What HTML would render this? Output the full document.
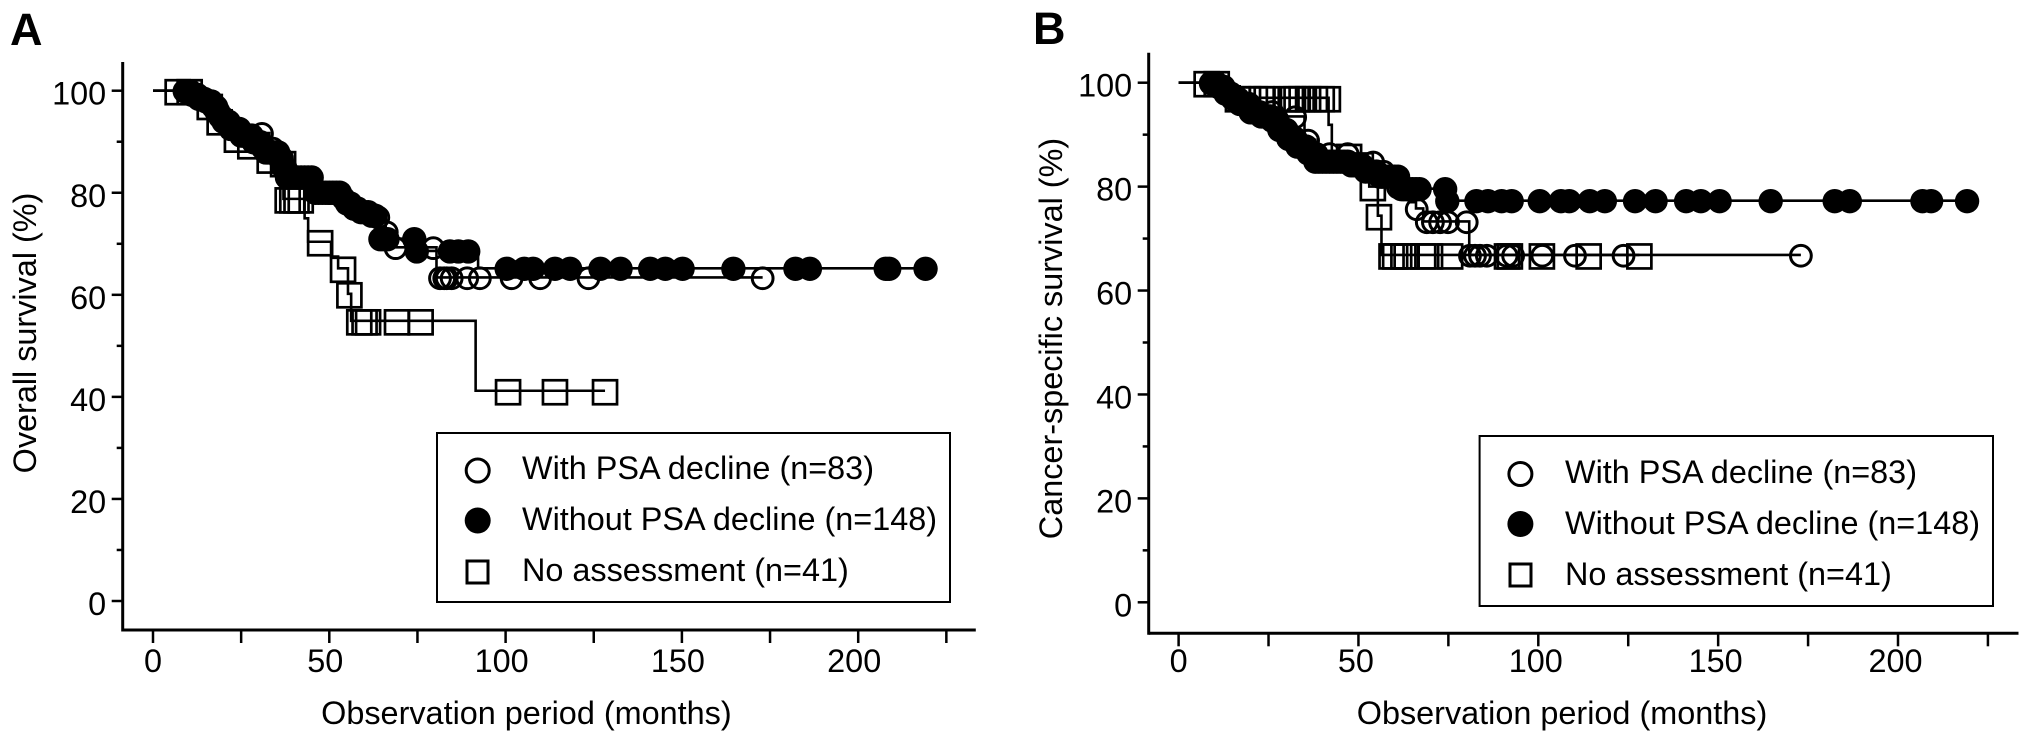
<!DOCTYPE html>
<html lang="en">
<head>
<meta charset="utf-8">
<title>Survival curves by PSA decline</title>
<style>
html,body{margin:0;padding:0;background:#fff;}
body{width:2031px;height:744px;overflow:hidden;}
svg{display:block;font-family:"Liberation Sans",Arial,sans-serif;fill:#000;}
text{font-size:32.4px;fill:#000;}
</style>
</head>
<body>
<svg id="figure" width="2031" height="744" viewBox="0 0 2031 744" xmlns="http://www.w3.org/2000/svg">
  <rect x="0" y="0" width="2031" height="744" fill="#fff"/>
  <text x="10" y="45" style="font-size:45px;font-weight:bold">A</text>
  <text x="1033" y="44" style="font-size:45px;font-weight:bold">B</text>

  <text transform="translate(36 333) rotate(-90)" text-anchor="middle">Overall survival (%)</text>
  <text transform="translate(1062 338.5) rotate(-90)" text-anchor="middle">Cancer-specific survival (%)</text>
  <text x="526.4" y="724" text-anchor="middle">Observation period (months)</text>
  <text x="1562" y="724" text-anchor="middle">Observation period (months)</text>

  <g id="panel-a"></g>
  <g id="panel-b"></g>

  <g>
    <rect x="437" y="433" width="513" height="169" fill="#fff" stroke="#000" stroke-width="2"/>
    <g>
      <circle cx="477.7" cy="470.5" r="11.5" fill="none" stroke="#000" stroke-width="3"/>
      <text x="522" y="479">With PSA decline (n=83)</text>
    </g>
    <g>
      <circle cx="477.7" cy="520.5" r="13" fill="#000"/>
      <text x="522" y="530">Without PSA decline (n=148)</text>
    </g>
    <g>
      <rect x="467" y="561" width="21" height="22" fill="none" stroke="#000" stroke-width="3"/>
      <text x="522" y="581">No assessment (n=41)</text>
    </g>
  </g>

  <g>
    <rect x="1479.6" y="436" width="513.4" height="170" fill="#fff" stroke="#000" stroke-width="2"/>
    <g>
      <circle cx="1520.4" cy="474" r="11.5" fill="none" stroke="#000" stroke-width="3"/>
      <text x="1565" y="483">With PSA decline (n=83)</text>
    </g>
    <g>
      <circle cx="1520.4" cy="524" r="13" fill="#000"/>
      <text x="1565" y="534">Without PSA decline (n=148)</text>
    </g>
    <g>
      <rect x="1510" y="564" width="21" height="22" fill="none" stroke="#000" stroke-width="3"/>
      <text x="1565" y="585">No assessment (n=41)</text>
    </g>
  </g>
</svg>

<script>
// ---- shared axis data ----
const xTickValues = [0, 25, 50, 75, 100, 125, 150, 175, 200, 225];
const xTickLabels = ["0", "", "50", "", "100", "", "150", "", "200", ""];
const yTickValues = [0, 10, 20, 30, 40, 50, 60, 70, 80, 90, 100];
const yTickLabels = ["0", "", "20", "", "40", "", "60", "", "80", "", "100"];

// ---- panel A: overall survival ----
const aWithStepTimes = [0, 11, 17, 20, 24, 28, 33, 36, 38, 46, 56, 62, 66, 68, 80.4];
const aWithStepValues = [100, 99.3, 97, 94, 92.3, 91.7, 88.8, 86.8, 83.1, 80.1, 77, 75.3, 72.4, 69.3, 63.4];
const aWithCensorTimes = [12, 18, 24, 30.9, 34, 38, 42, 50, 57, 63.9, 66.3, 68.8, 79.5, 81.4, 82.6, 83.3, 84.7, 89.1, 92.7, 101.7, 109.8, 123.5, 172.9];

const aWithoutStepTimes = [0, 11, 13, 15, 17, 18, 19, 20, 22, 25, 28.5, 31, 32, 36, 37, 37.7, 46, 54, 55, 56.8, 59, 61.5, 63.2, 64.2, 74.5, 92.2];
const aWithoutStepValues = [100, 99.3, 98.5, 98, 97, 96, 95, 94, 92.6, 91.3, 90, 89, 88, 86.8, 85, 83.1, 80.1, 79, 78, 77, 76.3, 75.6, 74.3, 71, 68.6, 65.2];
const aWithoutCensorTimes = [9, 9.5, 10, 10.5, 11, 11.5, 12, 12.5, 13, 13.5, 14, 14.5, 15, 15.5, 16, 16.5, 17, 17.5, 18, 18.5, 19, 19.5, 20, 20.5, 21, 21.5, 22, 22.5, 23, 23.5, 24, 24.5, 25, 25.5, 26, 26.5, 27, 27.5, 28, 28.5, 29, 29.5, 30, 30.5, 31, 31.5, 32, 32.5, 33, 33.5, 34, 34.5, 35, 35.5, 36, 36.5, 37, 37.5, 38, 39, 40, 41, 42, 43, 44, 45, 46, 47, 48, 49, 50, 51, 52, 53, 54, 55, 56, 57, 58, 59, 60, 61, 62, 63, 64.5, 65.5, 66.5, 74.1, 74.8, 84.2, 86.6, 89.4, 100.3, 105.3, 107.8, 114, 118.3, 126.9, 132.6, 141, 145.3, 150.2, 164.6, 182.2, 186.3, 207.8, 208.8, 219.1];

const aNoneStepTimes = [0, 14, 18, 23, 27, 33, 36, 37, 43, 44, 50.5, 52.5, 55.3, 56.2, 91.5];
const aNoneStepValues = [100, 97.1, 94.1, 90.7, 89.4, 86.6, 85.9, 78.8, 75, 70.4, 67.5, 65.2, 60.2, 54.9, 41.2];
const aNoneCensorTimes = [7, 10.4, 16.1, 18.9, 23.8, 27.6, 33.1, 36.9, 38.2, 39.5, 40.7, 41.9, 47.4, 53.9, 55.7, 58.5, 60, 61, 69.2, 75.9, 100.7, 114, 128.2];

// ---- panel B: cancer-specific survival ----
const bWithStepTimes = [0, 11, 17, 23, 29, 35, 38, 54, 56, 60, 64, 66, 68, 80.8];
const bWithStepValues = [100, 99.3, 96, 94.5, 93.5, 89, 86.4, 84.8, 83, 80, 77, 75.8, 73.3, 66.85];
const bWithCensorTimes = [12, 18, 26, 32.4, 36, 38.4, 42, 47, 54.1, 57, 61, 66.2, 69, 70.7, 72.7, 74.9, 80.1, 81, 82.4, 83.8, 85.7, 91.2, 93, 101.1, 110.2, 123.7, 173];

const bWithoutStepTimes = [0, 11, 13, 15, 17, 20, 23, 26, 28, 30.5, 33, 36, 38, 48, 52, 56, 61.5, 74.4];
const bWithoutStepValues = [100, 99.3, 98, 97, 96, 94.4, 93.6, 92.8, 91, 89.3, 87.8, 86.5, 84.9, 84.2, 83, 82, 79.6, 77.3];
const bWithoutCensorTimes = [9, 9.5, 10, 10.5, 11, 11.5, 12, 12.5, 13, 13.5, 14, 14.5, 15, 15.5, 16, 16.5, 17, 17.5, 18, 18.5, 19, 19.5, 20, 20.5, 21, 21.5, 22, 22.5, 23, 23.5, 24, 24.5, 25, 25.5, 26, 26.5, 27, 27.5, 28, 28.5, 29, 29.5, 30, 30.5, 31, 31.5, 32, 32.5, 33, 33.5, 34, 34.5, 35, 35.5, 36, 36.5, 37, 37.5, 38, 39, 40, 41, 42, 43, 44, 45, 46, 47, 48, 49, 50, 51, 52, 53, 54, 55, 56, 57, 58, 59, 60, 61, 62, 63, 64, 65, 66, 67, 74.1, 74.7, 82.8, 86, 89.8, 92.6, 100.4, 106.3, 108.6, 114.3, 118.5, 126.9, 132.6, 141.1, 145.2, 150.4, 164.6, 182.4, 186.6, 206.8, 209.2, 219.2];

const bNoneStepTimes = [0, 14, 41.7, 42.6, 50, 53, 55.4, 56.4];
const bNoneStepValues = [100, 97.1, 91.9, 86, 84, 80, 74.4, 66.85];
const bNoneCensorTimes = [7.8, 10.6, 16.5, 19.3, 21.2, 23.1, 24.5, 30, 31.8, 32.8, 34.2, 36, 37.9, 39.8, 41.5, 47.4, 54, 55.7, 59.2, 60.2, 62.5, 63.4, 68, 69.9, 75.5, 91.3, 92.1, 101, 114, 128.1];

const SVG_NS = "http://www.w3.org/2000/svg";

function makeXScale(origin, perMonth) {
  return function (months) { return origin + perMonth * months; };
}
function makeYScale(origin, perPercent) {
  return function (percent) { return origin - perPercent * percent; };
}
function stepValueAt(times, values, t) {
  let v = values[0];
  for (let i = 0; i < times.length; i++) {
    if (times[i] <= t) v = values[i];
  }
  return v;
}
function addNode(parent, tag, attrs) {
  const node = document.createElementNS(SVG_NS, tag);
  Object.keys(attrs).forEach(function (key) { node.setAttribute(key, attrs[key]); });
  parent.appendChild(node);
  return node;
}

function drawAxes(group, geom, x, y) {
  const axisStyle = { stroke: "#000", "stroke-width": 3, fill: "none" };
  const yAxis = addNode(group, "line", Object.assign({ x1: geom.axisX, x2: geom.axisX, y1: geom.axisTop, y2: geom.axisY + 1.5 }, axisStyle));
  
  
  const xAxis = addNode(group, "line", Object.assign({ x1: geom.axisX, x2: geom.axisRight, y1: geom.axisY, y2: geom.axisY }, axisStyle));
  
  

  xTickValues.forEach(function (value, i) {
    const px = x(value);
    const tick = addNode(group, "line", { x1: px, x2: px, y1: geom.axisY, y2: geom.axisY + 13, stroke: "#000", "stroke-width": 2.5 });
    
    
    if (xTickLabels[i]) {
      const shift = value === 0 ? 0 : geom.labelShift;
      const label = addNode(group, "text", { x: px + shift, y: 672, "text-anchor": "middle" });
      label.textContent = xTickLabels[i];
      
      
    }
  });

  yTickValues.forEach(function (value, i) {
    const py = y(value);
    const major = !!yTickLabels[i];
    const tick = addNode(group, "line", { x1: geom.axisX - (major ? 11 : 6), x2: geom.axisX, y1: py, y2: py, stroke: "#000", "stroke-width": 2.5 });
    
    
    if (major) {
      const label = addNode(group, "text", { x: geom.axisX - 16.5, y: py + 14, "text-anchor": "end" });
      label.textContent = yTickLabels[i];
      
      
    }
  });
}

function drawCurve(group, times, values, censorTimes, x, y, slug) {
  let d = "M" + x(times[0]) + " " + y(values[0]);
  for (let i = 1; i < times.length; i++) {
    d += "H" + x(times[i]) + "V" + y(values[i]);
  }
  d += "H" + x(censorTimes[censorTimes.length - 1]);
  const line = addNode(group, "path", { d: d, fill: "none", stroke: "#000", "stroke-width": 2.6 });
  
  
}

function drawMarks(group, times, values, censorTimes, x, y, kind, slug) {
  censorTimes.forEach(function (t) {
    const px = x(t);
    const py = y(stepValueAt(times, values, t));
    let mark;
    if (kind === "filled") {
      mark = addNode(group, "circle", { cx: px, cy: py + 0.5, r: 12.2, fill: "#000" });
    } else if (kind === "open") {
      mark = addNode(group, "circle", { cx: px, cy: py + 0.8, r: 10.4, fill: "none", stroke: "#000", "stroke-width": 3 });
    } else {
      mark = addNode(group, "rect", { x: px - 12, y: py - 10.5, width: 24, height: 24, fill: "none", stroke: "#000", "stroke-width": 2.7 });
    }
    
    
  });
}

function drawPanel(id, geom, curves) {
  const group = document.getElementById(id);
  const x = makeXScale(geom.x0, geom.perMonth);
  const y = makeYScale(geom.y0, geom.perPercent);
  drawAxes(group, geom, x, y);
  curves.forEach(function (c) { drawCurve(group, c.times, c.values, c.censor, x, y, c.slug); });
  curves.forEach(function (c) { drawMarks(group, c.times, c.values, c.censor, x, y, c.kind, c.slug); });
}

drawPanel("panel-a",
  { x0: 153, perMonth: 3.526, y0: 601, perPercent: 5.103, axisX: 122.7, axisTop: 62, axisY: 630, axisRight: 975.8, labelShift: -4 },
  [
    { slug: "no-assessment", kind: "square", times: aNoneStepTimes, values: aNoneStepValues, censor: aNoneCensorTimes },
    { slug: "with-psa-decline", kind: "open", times: aWithStepTimes, values: aWithStepValues, censor: aWithCensorTimes },
    { slug: "without-psa-decline", kind: "filled", times: aWithoutStepTimes, values: aWithoutStepValues, censor: aWithoutCensorTimes }
  ]);

drawPanel("panel-b",
  { x0: 1178.6, perMonth: 3.597, y0: 602.3, perPercent: 5.196, axisX: 1148.7, axisTop: 52.7, axisY: 633.3, axisRight: 2018.5, labelShift: -2.5 },
  [
    { slug: "no-assessment", kind: "square", times: bNoneStepTimes, values: bNoneStepValues, censor: bNoneCensorTimes },
    { slug: "with-psa-decline", kind: "open", times: bWithStepTimes, values: bWithStepValues, censor: bWithCensorTimes },
    { slug: "without-psa-decline", kind: "filled", times: bWithoutStepTimes, values: bWithoutStepValues, censor: bWithoutCensorTimes }
  ]);
</script>
</body>
</html>
